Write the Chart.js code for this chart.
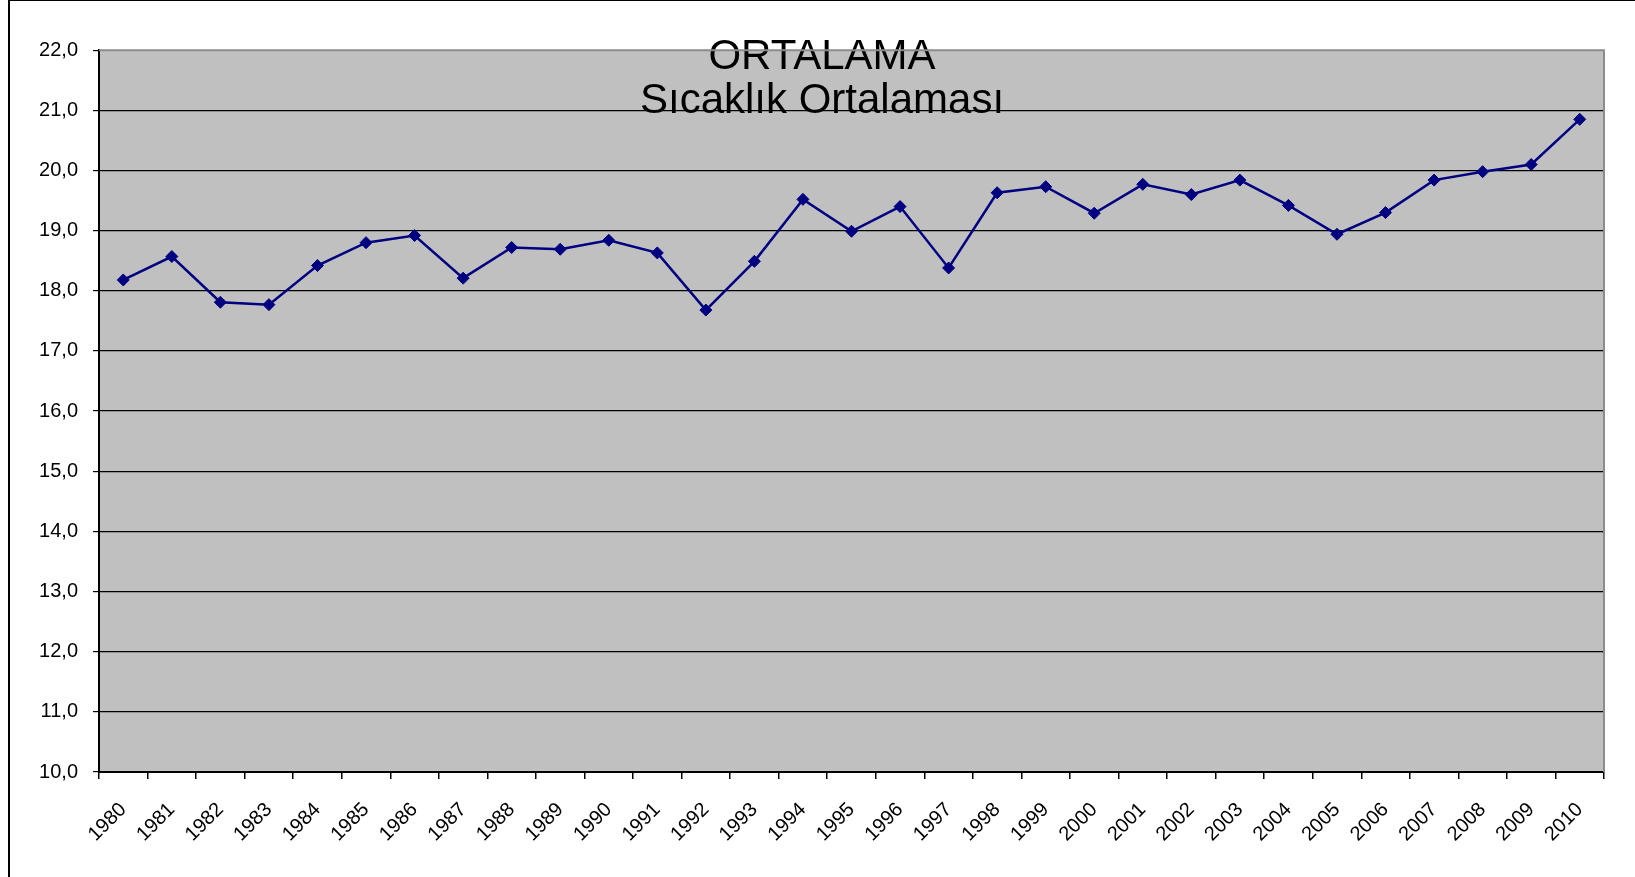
<!DOCTYPE html>
<html lang="tr">
<head>
<meta charset="utf-8">
<title>ORTALAMA - Sıcaklık Ortalaması</title>
<script src="https://cdn.jsdelivr.net/npm/chart.js@4.4.1/dist/chart.umd.min.js"></script>
<style>
    html, body { margin: 0; padding: 0; background: #fff; overflow: hidden; }
    #wrap { position: relative; width: 1635px; height: 877px; }
    #chart { position: absolute; left: 0; top: 0; }
    #frame {
        position: absolute; left: 8px; top: 0; width: 1640px; height: 890px;
        border-top: 1px solid #000; border-left: 2px solid #000;
        pointer-events: none;
    }
</style>
</head>
<body>
<div id="wrap">
    <canvas id="chart" width="1635" height="877"></canvas>
    <div id="frame"></div>
</div>
<script>
// Données
const years = ['1980', '1981', '1982', '1983', '1984', '1985', '1986', '1987', '1988', '1989',
               '1990', '1991', '1992', '1993', '1994', '1995', '1996', '1997', '1998', '1999',
               '2000', '2001', '2002', '2003', '2004', '2005', '2006', '2007', '2008', '2009', '2010'];
const temps = [18.18, 18.57, 17.81, 17.77, 18.42, 18.80, 18.92, 18.21, 18.72, 18.69,
               18.84, 18.63, 17.68, 18.49, 19.52, 18.99, 19.40, 18.38, 19.63, 19.73,
               19.29, 19.77, 19.60, 19.84, 19.42, 18.94, 19.30, 19.84, 19.98, 20.10, 20.85];
const titleLines = ['ORTALAMA', 'Sıcaklık Ortalaması'];
const yMin = 10;
const yMax = 22;

const FONT = '"Liberation Sans", Arial, sans-serif';

// Fond gris de la zone de tracé
const plotBackground = {
    id: 'plotBackground',
    beforeDraw(chart) {
        const a = chart.chartArea;
        const ctx = chart.ctx;
        ctx.save();
        ctx.fillStyle = '#c0c0c0';
        ctx.fillRect(a.left, a.top, a.right - a.left, a.bottom - a.top);
        ctx.restore();
    },
    beforeDatasetsDraw(chart) {
        // Bordure grise en haut et à droite
        const a = chart.chartArea;
        const ctx = chart.ctx;
        ctx.save();
        ctx.strokeStyle = '#8c8c8c';
        ctx.lineWidth = 2;
        ctx.beginPath();
        ctx.moveTo(a.left, a.top);
        ctx.lineTo(a.right, a.top);
        ctx.lineTo(a.right, a.bottom);
        ctx.stroke();
        ctx.restore();
    }
};

// Initialisation du graphique
const ctx = document.getElementById('chart').getContext('2d');
const chart = new Chart(ctx, {
    type: 'line',
    data: {
        labels: years,
        datasets: [{
            data: temps,
            borderColor: '#000080',
            backgroundColor: '#000080',
            borderWidth: 2.5,
            pointStyle: 'rectRot',
            pointRadius: 6,
            pointBorderWidth: 1,
            tension: 0
        }]
    },
    options: {
        responsive: false,
        animation: false,
        layout: {
            padding: { left: 40, right: 31, top: 0, bottom: 0 }
        },
        plugins: {
            legend: { display: false },
            tooltip: { enabled: false },
            title: {
                display: true,
                text: titleLines,
                color: '#000',
                font: { family: FONT, size: 42, weight: 'normal', lineHeight: 1.05 },
                padding: { top: 35, bottom: -73 }
            }
        },
        scales: {
            x: {
                offset: true,
                grid: {
                    offset: true,
                    drawOnChartArea: false,
                    drawTicks: true,
                    tickLength: 7,
                    color: '#000',
                    lineWidth: 1.5
                },
                border: { color: '#000', width: 2 },
                ticks: {
                    color: '#000',
                    font: { family: FONT, size: 20 },
                    minRotation: 45,
                    maxRotation: 45,
                    autoSkip: false,
                    padding: 19
                },
                afterFit(scale) { scale.height = 105; }
            },
            y: {
                min: yMin,
                max: yMax,
                grid: {
                    color: (c) => (c.tick && c.tick.value === yMax ? 'rgba(0,0,0,0)' : '#000'),
                    tickColor: '#000',
                    tickLength: 6,
                    lineWidth: 1.2
                },
                border: { color: '#000', width: 2 },
                ticks: {
                    stepSize: 1,
                    color: '#000',
                    font: { family: FONT, size: 20 },
                    padding: 15,
                    callback: (v) => Number(v).toFixed(1).replace('.', ',')
                },
                afterFit(scale) { scale.width = 59; }
            }
        }
    },
    plugins: [plotBackground]
});
</script>
</body>
</html>
